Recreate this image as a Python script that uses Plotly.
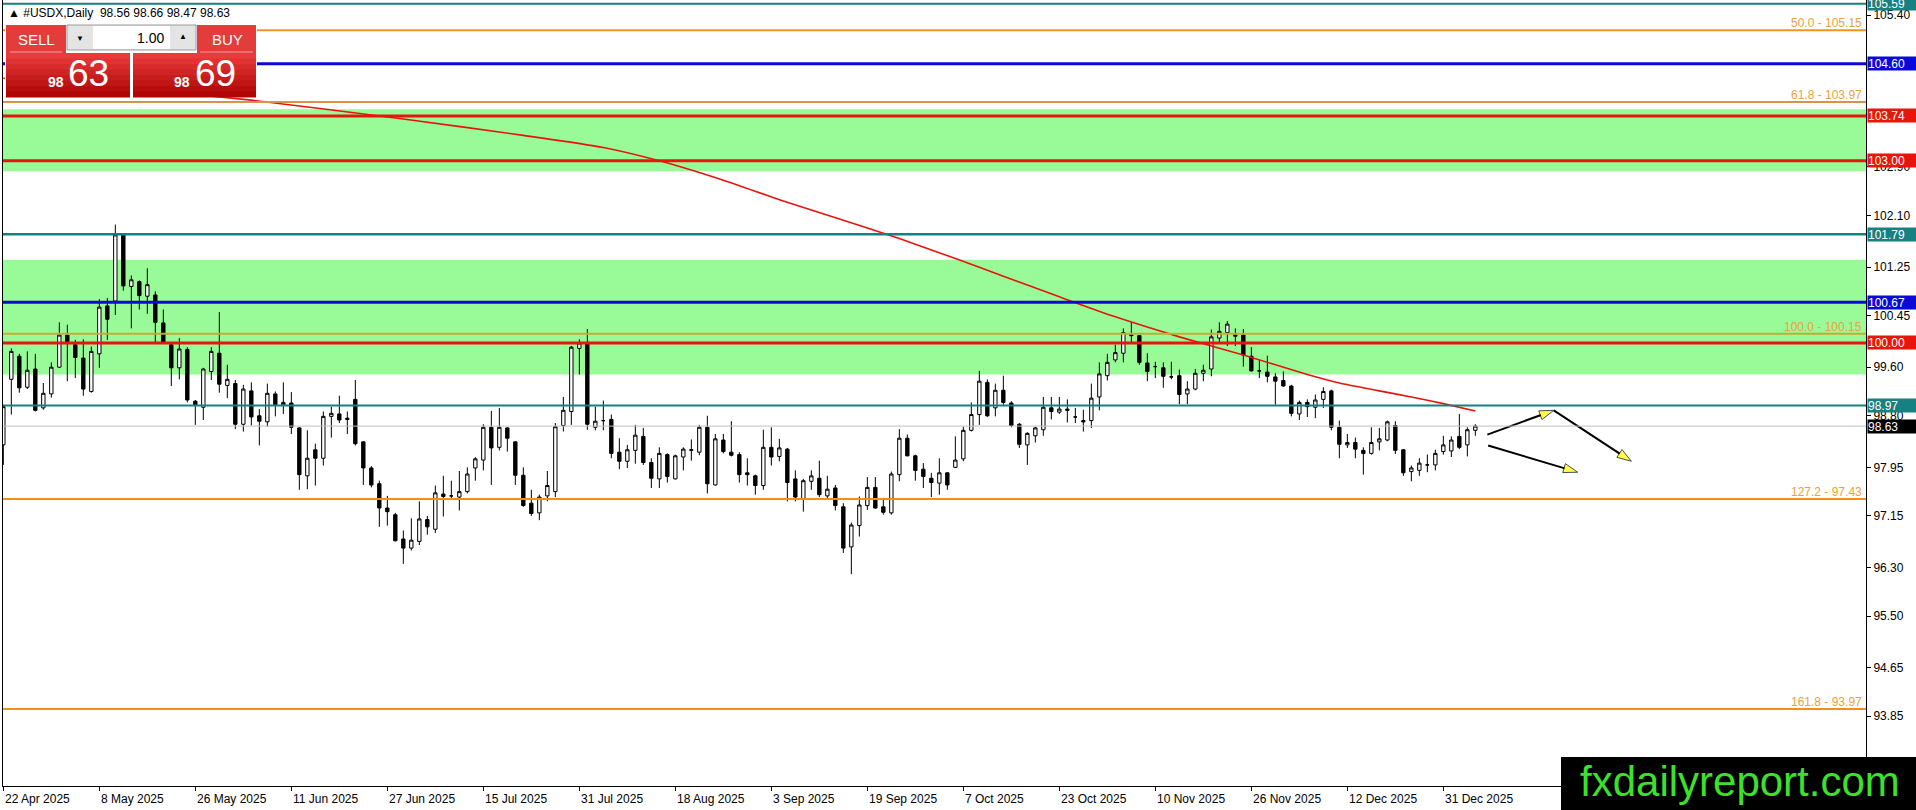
import plotly.graph_objects as go

W, H = 1916, 810
ML, MR, MT, MB = 3, 50, 0, 24
PW, PH = W - ML - MR, H - MT - MB
FONT = "Liberation Sans"

# x axis labels, one every 12 bars
dates = ["22 Apr 2025", "8 May 2025", "26 May 2025", "11 Jun 2025", "27 Jun 2025",
         "15 Jul 2025", "31 Jul 2025", "18 Aug 2025", "3 Sep 2025", "19 Sep 2025",
         "7 Oct 2025", "23 Oct 2025", "10 Nov 2025", "26 Nov 2025", "12 Dec 2025",
         "31 Dec 2025"]
date_pos = [0, 12, 24, 36, 48, 60, 72, 84, 96, 108, 120, 132, 144, 156, 168, 180]

# daily bars
opens = [98.32, 99.40, 99.78, 99.27, 99.57, 98.93, 99.16, 99.60, 100.13, 99.97,
         99.75, 99.20, 99.82, 100.61, 100.69, 101.78, 100.93, 101.01, 100.77, 100.79,
         100.33, 99.97, 99.59, 99.89, 99.04, 98.94, 99.53, 99.83, 99.30, 99.33,
         98.66, 99.21, 98.80, 98.70, 99.16, 98.98, 99.01, 98.60, 97.81, 98.24,
         98.10, 98.79, 98.83, 98.76, 99.07, 98.37, 97.94, 97.68, 97.28, 97.17,
         96.77, 96.62, 96.73, 97.09, 96.93, 97.51, 97.48, 97.46, 97.55, 97.94,
         98.07, 98.61, 98.28, 98.60, 98.37, 97.82, 97.36, 97.20, 97.48, 97.55,
         98.64, 98.87, 99.91, 100.00, 98.61, 98.72, 98.74, 98.20, 98.05, 98.23,
         98.46, 98.03, 97.76, 98.16, 97.76, 98.12, 98.23, 98.20, 98.61, 97.66,
         98.40, 98.20, 98.16, 97.86, 97.81, 97.65, 98.28, 98.13, 98.25, 97.76,
         97.42, 97.72, 97.77, 97.48, 97.61, 97.30, 96.64, 96.99, 97.32, 97.62,
         97.30, 97.20, 97.83, 98.43, 98.14, 97.92, 97.77, 97.69, 97.86, 97.95,
         98.09, 98.56, 98.82, 99.35, 98.93, 99.22, 99.01, 98.66, 98.32, 98.47,
         98.57, 98.93, 98.86, 98.91, 98.78, 98.72, 98.72, 99.11, 99.46, 99.72,
         99.83, 100.12, 100.12, 99.67, 99.61, 99.59, 99.44, 99.46, 99.16, 99.24,
         99.50, 99.57, 100.08, 100.17, 100.11, 100.13, 99.78, 99.54, 99.52, 99.44,
         99.38, 99.29, 98.83, 99.02, 98.94, 99.07, 99.21, 98.61, 98.32, 98.36,
         98.23, 98.18, 98.37, 98.40, 98.64, 98.24, 97.88, 97.90, 97.99, 97.99,
         98.21, 98.22, 98.46, 98.32, 98.56]
highs = [98.97, 99.91, 99.82, 99.86, 99.82, 99.34, 99.68, 100.34, 100.30, 100.05,
         100.06, 99.94, 100.72, 100.74, 101.95, 101.80, 101.11, 101.03, 101.23, 100.85,
         100.55, 100.01, 100.08, 99.93, 99.06, 99.59, 99.93, 100.51, 99.64, 99.39,
         99.31, 99.35, 98.91, 99.33, 99.20, 99.35, 99.19, 98.61, 98.56, 98.34,
         98.87, 98.95, 99.13, 98.87, 99.39, 98.38, 97.97, 97.73, 97.48, 97.20,
         96.91, 97.11, 97.39, 97.15, 97.65, 97.81, 97.73, 97.89, 97.95, 98.12,
         98.66, 98.88, 98.93, 98.61, 98.38, 97.95, 97.58, 97.50, 97.89, 98.68,
         99.11, 99.95, 100.06, 100.23, 98.95, 99.05, 98.82, 98.43, 98.32, 98.65,
         98.60, 98.10, 98.28, 98.18, 98.16, 98.28, 98.41, 98.65, 98.80, 98.50,
         98.50, 98.71, 98.20, 98.10, 97.83, 98.57, 98.61, 98.42, 98.27, 97.90,
         97.76, 97.90, 98.06, 97.81, 97.66, 97.36, 97.04, 97.47, 97.79, 97.79,
         97.43, 97.88, 98.58, 98.49, 98.16, 98.02, 97.86, 98.10, 97.87, 98.46,
         98.62, 99.02, 99.54, 99.40, 99.33, 99.46, 99.04, 98.68, 98.53, 98.62,
         99.11, 99.11, 99.11, 99.07, 98.93, 98.90, 99.33, 99.68, 99.82, 99.97,
         100.24, 100.34, 100.13, 99.83, 99.69, 99.68, 99.69, 99.56, 99.37, 99.57,
         99.64, 100.22, 100.34, 100.36, 100.24, 100.23, 99.93, 99.72, 99.79, 99.50,
         99.53, 99.31, 99.05, 99.07, 99.15, 99.27, 99.23, 98.72, 98.50, 98.44,
         98.28, 98.61, 98.60, 98.72, 98.71, 98.25, 97.98, 98.10, 98.16, 98.24,
         98.47, 98.46, 98.83, 98.61, 98.66]
lows = [97.99, 98.82, 99.18, 99.24, 98.87, 98.90, 99.10, 99.59, 99.37, 99.42,
        99.13, 99.18, 99.59, 100.05, 100.46, 100.86, 100.24, 100.55, 100.48, 100.01,
        100.00, 99.29, 99.40, 99.02, 98.65, 98.73, 99.39, 99.18, 99.09, 98.58,
        98.54, 98.64, 98.31, 98.62, 98.79, 98.83, 98.50, 97.58, 97.59, 97.65,
        97.98, 98.44, 98.68, 98.50, 98.31, 97.66, 97.62, 96.97, 96.99, 96.73,
        96.36, 96.58, 96.67, 96.84, 96.87, 97.14, 97.44, 97.24, 97.52, 97.73,
        97.90, 97.66, 98.23, 98.21, 97.66, 97.30, 97.15, 97.08, 97.39, 97.46,
        98.54, 98.65, 99.48, 98.57, 98.56, 98.56, 98.10, 97.92, 97.94, 98.01,
        97.99, 97.61, 97.61, 97.70, 97.75, 97.90, 98.06, 98.15, 97.52, 97.65,
        98.18, 98.13, 97.70, 97.65, 97.50, 97.58, 97.98, 98.05, 97.39, 97.39,
        97.22, 97.58, 97.46, 97.44, 97.24, 96.54, 96.19, 96.81, 97.25, 97.27,
        97.17, 97.17, 97.72, 98.13, 97.73, 97.61, 97.46, 97.50, 97.58, 97.94,
        98.05, 98.54, 98.65, 98.78, 98.79, 98.98, 98.61, 98.27, 97.99, 98.36,
        98.47, 98.74, 98.83, 98.69, 98.68, 98.54, 98.60, 98.89, 99.38, 99.68,
        99.68, 100.01, 99.64, 99.37, 99.42, 99.26, 99.40, 98.99, 98.99, 99.22,
        99.37, 99.45, 100.01, 99.95, 99.95, 99.61, 99.53, 99.42, 99.35, 98.98,
        99.28, 98.79, 98.73, 98.78, 98.76, 98.93, 98.56, 98.10, 98.27, 98.10,
        97.83, 98.16, 98.23, 98.38, 98.17, 97.81, 97.72, 97.81, 97.87, 97.90,
        98.16, 98.12, 98.25, 98.13, 98.47]
closes = [98.95, 99.86, 99.26, 99.55, 98.89, 99.17, 99.60, 100.13, 100.02, 99.76,
          99.24, 99.86, 100.59, 100.39, 101.78, 100.94, 101.04, 100.78, 100.96, 100.34,
          100.01, 99.59, 99.90, 99.06, 98.98, 99.57, 99.86, 99.32, 99.40, 98.66,
          99.24, 98.78, 98.71, 99.17, 98.98, 99.02, 98.61, 97.83, 98.10, 98.10,
          98.79, 98.84, 98.73, 98.74, 98.34, 97.94, 97.66, 97.28, 97.22, 96.74,
          96.62, 96.75, 97.10, 96.97, 97.53, 97.47, 97.48, 97.55, 97.84, 98.09,
          98.61, 98.27, 98.61, 98.43, 97.82, 97.32, 97.19, 97.46, 97.65, 98.62,
          98.89, 99.93, 100.00, 98.66, 98.71, 98.72, 98.18, 98.05, 98.24, 98.48,
          98.03, 97.77, 98.18, 97.80, 98.14, 98.25, 98.24, 98.61, 97.68, 98.42,
          98.21, 98.15, 97.83, 97.83, 97.65, 98.28, 98.12, 98.27, 97.70, 97.46,
          97.73, 97.81, 97.50, 97.59, 97.32, 96.62, 97.00, 97.33, 97.62, 97.28,
          97.21, 97.84, 98.43, 98.14, 97.90, 97.80, 97.70, 97.86, 97.66, 98.07,
          98.56, 98.82, 99.37, 98.80, 99.22, 99.02, 98.64, 98.33, 98.51, 98.60,
          98.94, 98.87, 98.91, 98.89, 98.78, 98.70, 99.09, 99.49, 99.68, 99.84,
          100.17, 100.13, 99.68, 99.53, 99.61, 99.45, 99.44, 99.15, 99.24, 99.50,
          99.55, 100.10, 100.19, 100.31, 100.13, 99.80, 99.54, 99.54, 99.45, 99.37,
          99.29, 98.84, 99.02, 98.95, 99.06, 99.20, 98.61, 98.33, 98.36, 98.25,
          98.18, 98.36, 98.42, 98.70, 98.23, 97.86, 97.94, 98.02, 97.99, 98.18,
          98.32, 98.40, 98.28, 98.57, 98.63]
bars = list(range(len(opens)))

# red moving average, sampled along the curve
ma_idx = [0, 20, 31, 50, 65, 75, 82, 90, 97, 105, 112, 119, 125, 132, 139, 147,
          155, 163, 167, 172, 176, 180, 184]
ma_val = [104.36, 104.14, 104.00, 103.69, 103.42, 103.22, 103.00, 102.68, 102.36,
          102.02, 101.72, 101.39, 101.10, 100.76, 100.43, 100.10, 99.80, 99.48,
          99.34, 99.21, 99.11, 99.00, 98.88]

# drawn arrows (bar index, price)
up_x = [185.5, 193.8, 203.5]
up_y = [98.49, 98.89, 98.05]
dn_x = [185.6, 196.8]
dn_y = [98.31, 97.87]

# zones and levels
zones = [(102.83, 103.85), (99.48, 101.37)]
hlines = [(105.59, "#178080", 2), (105.15, "#f2951e", 2), (104.60, "#0a0ad8", 3),
          (103.97, "#d9924c", 2), (103.74, "#e8150c", 3), (103.00, "#e8150c", 3),
          (101.79, "#178080", 2.5), (100.67, "#0a0ad8", 3), (100.15, "#c2ac32", 2),
          (100.00, "#e8150c", 3), (98.97, "#178080", 2), (98.63, "#c0c0c0", 1),
          (97.43, "#f0901a", 2), (93.97, "#f0901a", 2)]
fib_levels = [105.15, 103.97, 100.15, 97.43, 93.97]
fib_names = ["50.0", "61.8", "100.0", "127.2", "161.8"]
tag_vals = [105.59, 104.60, 103.74, 103.00, 101.79, 100.67, 100.00, 98.97, 98.63]
tag_cols = ["#178080", "#0a0ad8", "#e8150c", "#e8150c", "#178080", "#0a0ad8",
            "#e8150c", "#178080", "#000000"]
y_ticks = [105.40, 102.90, 102.10, 101.25, 100.45, 99.60, 98.80,
           97.95, 97.15, 96.30, 95.50, 94.65, 93.85]


def fx(px):
    return (px - ML) / PW


def fy(py):
    return 1 - (py - MT) / PH


def box(x0, y0, x1, y1, color, line=None):
    return dict(type="rect", xref="paper", yref="paper", layer="above",
                x0=fx(x0), x1=fx(x1), y0=fy(y1), y1=fy(y0), fillcolor=color,
                line=dict(width=1 if line else 0, color=line or color))


def label(px, py, text, size, color="white", anchor="left", bold=False, fam=FONT):
    if bold:
        text = "<b>" + text + "</b>"
    return dict(xref="paper", yref="paper", x=fx(px), y=fy(py), text=text,
                showarrow=False, xanchor=anchor, yanchor="middle",
                font=dict(family=fam, size=size, color=color))


fig = go.Figure()

fig.add_trace(go.Candlestick(
    x=bars, open=opens, high=highs, low=lows, close=closes,
    increasing=dict(line=dict(color="black", width=1), fillcolor="white"),
    decreasing=dict(line=dict(color="black", width=1), fillcolor="black"),
    whiskerwidth=0, hoverinfo="skip", showlegend=False
))

fig.add_trace(go.Scatter(x=ma_idx, y=ma_val, mode="lines",
                         line=dict(color="#e8140c", width=1.6, shape="spline", smoothing=0.6),
                         hoverinfo="skip", showlegend=False))

for xs, ys in ((up_x, up_y), (dn_x, dn_y)):
    fig.add_trace(go.Scatter(
        x=xs, y=ys, mode="lines+markers",
        line=dict(color="black", width=2),
        marker=dict(symbol="arrow", size=[0] + [15] * (len(xs) - 1),
                    color="#ffff00", angleref="previous",
                    line=dict(color="black", width=1)),
        hoverinfo="skip", showlegend=False))

shapes = []
for lo, hi in zones:
    shapes.append(dict(type="rect", xref="paper", yref="y", x0=0, x1=1, y0=lo, y1=hi,
                       fillcolor="#98fb98", line=dict(width=0), layer="below"))
for val, col, wid in hlines:
    shapes.append(dict(type="line", xref="paper", yref="y", x0=0, x1=1, y0=val, y1=val,
                       line=dict(color=col, width=wid), layer="above"))

# one-click trading panel
shapes.append(box(5, 24, 257, 97, "white"))
shapes.append(box(6, 25, 66, 53, "#e23c3c"))
shapes.append(box(197, 25, 256, 53, "#e23c3c"))
shapes.append(box(67, 25, 196, 50, "#e4e4e4", line="#9a9a9a"))
shapes.append(box(93, 26, 170, 49, "white"))
top, bot = (0xe8, 0x3c, 0x3c), (0xb0, 0x06, 0x06)
nb = 8
for k in range(nb):
    t = k / (nb - 1)
    c = "#%02x%02x%02x" % tuple(int(a + (b - a) * t) for a, b in zip(top, bot))
    y0 = 53 + k * 44 / nb
    y1 = 53 + (k + 1) * 44 / nb
    shapes.append(box(6, y0, 130, y1 + 0.5, c))
    shapes.append(box(133, y0, 256, y1 + 0.5, c))
for x0, x1 in ((10, 62), (200, 253)):
    shapes.append(dict(type="line", xref="paper", yref="paper", layer="above",
                       x0=fx(x0), x1=fx(x1), y0=fy(52), y1=fy(52),
                       line=dict(color="#f4a0a0", width=1)))

# watermark box
shapes.append(dict(type="rect", xref="paper", yref="paper", layer="above",
                   x0=fx(1561), x1=fx(1917), y0=fy(811), y1=fy(757),
                   fillcolor="black", line=dict(width=0)))

ann = []
ann.append(label(6, 13, "▲ #USDX,Daily  98.56 98.66 98.47 98.63", 12, "black"))
ann.append(label(36, 39, "SELL", 15, anchor="center"))
ann.append(label(227, 39, "BUY", 15, anchor="center"))
ann.append(label(166, 38, "1.00", 14, "black", anchor="right"))
ann.append(label(80, 38, "▼", 8, "black", anchor="center"))
ann.append(label(183, 37, "▲", 8, "black", anchor="center"))
ann.append(label(46, 82, "98", 14, bold=True))
ann.append(label(66, 73, "63", 37))
ann.append(label(172, 82, "98", 14, bold=True))
ann.append(label(193, 73, "69", 37))

for lvl, name in zip(fib_levels, fib_names):
    ann.append(dict(xref="paper", yref="y", x=1, y=lvl, xanchor="right", yanchor="bottom",
                    xshift=-2, yshift=-2, showarrow=False, text=f"{name} - {lvl:.2f}",
                    font=dict(family=FONT, size=12, color="#eea03c")))

for v, c in zip(tag_vals, tag_cols):
    ann.append(dict(xref="paper", yref="y", x=1, y=v, xanchor="left", yanchor="middle",
                    xshift=1, showarrow=False, text=f"{v:.2f}", bgcolor=c,
                    width=48, height=13, align="left", borderpad=0,
                    font=dict(family=FONT, size=12, color="white")))

for pos, txt in zip(date_pos, dates):
    ann.append(dict(xref="x", yref="paper", x=pos, y=0, xanchor="left", yanchor="top",
                    xshift=0, yshift=-4, showarrow=False, text=txt,
                    font=dict(family=FONT, size=12, color="black")))

ann.append(dict(xref="paper", yref="paper", x=fx(1740), y=fy(781), xanchor="center",
                yanchor="middle", showarrow=False, text="fxdailyreport.com",
                font=dict(family=FONT, size=42, color="#3de02a")))

fig.update_layout(
    width=W, height=H,
    margin=dict(l=ML, r=MR, t=MT, b=MB, pad=0),
    paper_bgcolor="white", plot_bgcolor="white",
    boxgap=0.4,
    shapes=shapes, annotations=ann,
    showlegend=False,
    xaxis=dict(range=[-0.04, 232.83], showgrid=False, zeroline=False,
               showline=True, linecolor="black", linewidth=1, mirror=True,
               ticks="outside", tickvals=date_pos, ticklen=4, tickcolor="black",
               showticklabels=False, rangeslider=dict(visible=False), fixedrange=True),
    yaxis=dict(range=[92.70, 105.65], side="right", showgrid=False, zeroline=False,
               showline=True, linecolor="black", linewidth=1, mirror=True,
               ticks="outside", tickvals=y_ticks, tickformat=".2f", ticklen=4,
               tickcolor="black", tickfont=dict(family=FONT, size=12, color="black"),
               fixedrange=True),
)

fig.write_html("out.html", config={"displayModeBar": False},
               post_script="document.body.style.margin='0';document.body.style.overflow='hidden';")
